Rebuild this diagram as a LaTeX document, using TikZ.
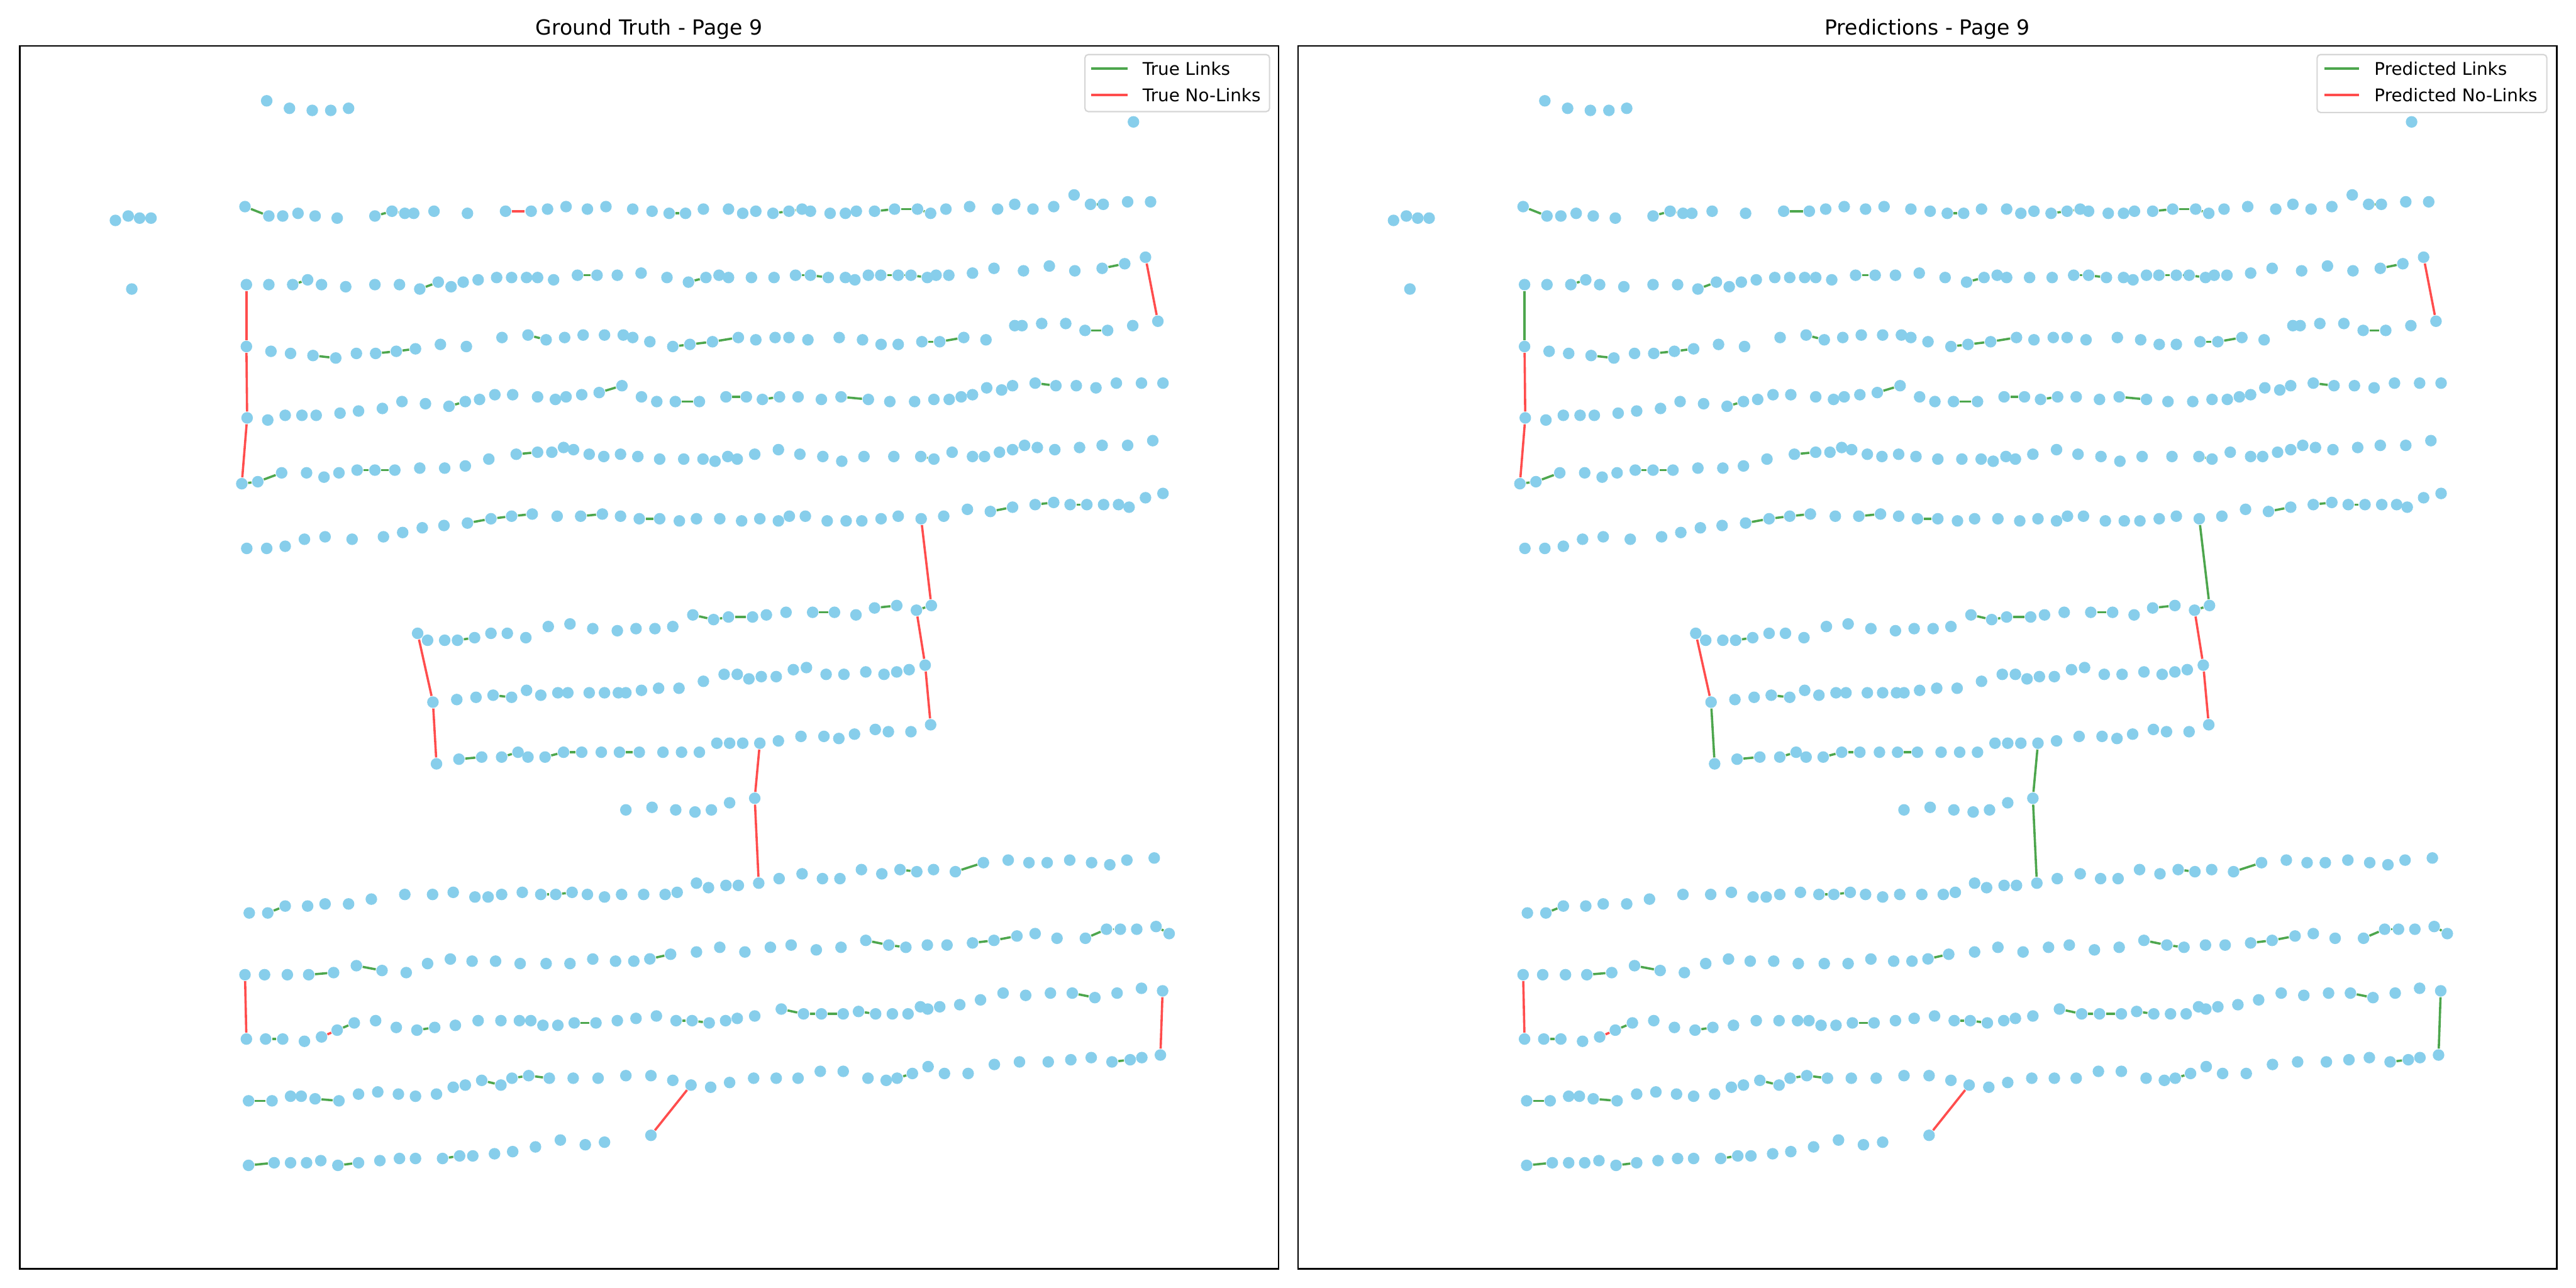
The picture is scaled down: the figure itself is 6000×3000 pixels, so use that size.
\documentclass[tikz,border=0pt]{standalone}
\usepackage{fontspec}
\setmainfont{DejaVu Sans}
\usetikzlibrary{positioning}
\definecolor{SkyDot}{HTML}{87CEEB}
\definecolor{LinkGreen}{RGB}{77,166,77}
\definecolor{NoLinkRed}{RGB}{255,77,77}
\definecolor{LegendEdge}{RGB}{214,214,214}
\pgfdeclarelayer{paper}
\pgfdeclarelayer{bg}
\pgfsetlayers{paper,bg,main}

\newcommand{\dotrow}[3]{\foreach \x/\y [count=\i] in {#3} {\node[blob] (#1-#2-\i) at (\x,\y) {};}}
\newcommand{\linkset}[3]{\foreach \p/\q in {#3} {\draw[#2] (#1-\p) -- (#1-\q);}}

\newcommand{\pagedots}[2]{%
\begin{scope}[fliplnk/.style={#2}]
  \begin{scope}[shift={(200,200)}, xscale=0.8291, yscale=0.4464]
    \dotrow{#1}{t}{508/78, 572/117, 636/128, 688/128, 738/117}
    \dotrow{#1}{l}{83/702, 119/679, 151/690, 183/690, 129/1060}
    \dotrow{#1}{1a}{447/630, 514/679, 553/679, 596/665, 644/679, 706/690, 812/679, 860/654, 896/665, 921/665, 978/654, 1072/665, 1179/654, 1251/654, 1297/643, 1349/630, 1409/643, 1461/630}
    \dotrow{#1}{2a}{451/1037, 514/1037, 581/1037, 623/1012, 662/1037, 730/1048, 812/1037, 881/1037, 938/1060, 990/1024, 1026/1048, 1060/1024, 1102/1012, 1154/1000, 1196/1000, 1238/1000, 1269/1000, 1314/1012, 1381/988, 1436/988, 1493/988}
    \dotrow{#1}{3a}{451/1360, 520/1385, 575/1396, 638/1407, 702/1420, 760/1396, 814/1396, 872/1385, 926/1372, 996/1349, 1069/1360, 1169/1313, 1242/1300, 1293/1325, 1345/1313, 1397/1300, 1457/1300}
  \end{scope}
  \begin{scope}[shift={(1450,200)}, xscale=0.8482, yscale=0.4464]
    \dotrow{#1}{tr}{1403/188}
    \dotrow{#1}{1b}{28/643, 81/654, 128/665, 173/665, 222/643, 291/643, 330/665, 366/654, 413/665, 457/654, 493/643, 516/654, 570/665, 612/665, 642/654, 692/654, 747/643, 810/643, 846/665, 888/643, 953/630, 1030/643, 1077/618, 1127/643, 1184/630, 1240/569, 1285/618, 1320/618, 1387/605, 1450/605}
    \dotrow{#1}{2b}{51/977, 122/1000, 181/1024, 229/1000, 265/988, 291/1000, 354/1000, 416/1000, 475/988, 516/988, 565/1000, 612/1000, 638/1012, 675/988, 709/988, 757/988, 792/988, 837/1000, 861/988, 896/988, 961/977, 1020/952, 1101/965, 1172/940, 1242/965, 1317/952, 1379/928, 1436/894}
    \dotrow{#1}{3b}{2/1300, 28/1313, 75/1335, 138/1360, 185/1349, 247/1335, 318/1313, 366/1325, 419/1313, 457/1313, 509/1325, 595/1313, 659/1325, 710/1349, 757/1349, 822/1335, 871/1335, 937/1313, 998/1325, 1077/1251, 1097/1251, 1151/1240, 1217/1240, 1270/1276, 1332/1276, 1401/1251, 1470/1228}
  \end{scope}
  \begin{scope}[shift={(200,860)}, xscale=0.8291, yscale=0.3333]
    \dotrow{#1}{4a}{453/340, 511/355, 560/322, 607/322, 647/322, 714/307, 766/292, 833/274, 888/226, 954/241, 1020/259, 1066/226, 1106/211, 1149/178, 1199/178, 1269/193, 1319/211, 1349/193, 1393/178, 1442/163, 1506/115}
    \dotrow{#1}{5a}{438/800, 483/786, 550/724, 620/724, 669/754, 711/724, 762/705, 812/705, 868/705, 938/691, 1008/691, 1066/676, 1132/628, 1209/594, 1269/580, 1309/580, 1342/547, 1370/562, 1414/594, 1455/610, 1502/594}
    \dotrow{#1}{6a}{452/1252, 508/1252, 560/1237, 614/1188, 672/1171, 748/1188, 836/1171, 890/1141, 945/1108, 1006/1092, 1072/1075, 1138/1045, 1196/1027, 1254/1012, 1324/1027, 1390/1027, 1451/1012, 1502/1027}
  \end{scope}
  \begin{scope}[shift={(1450,860)}, xscale=0.8482, yscale=0.3333]
    \dotrow{#1}{4b}{52/193, 94/226, 145/226, 211/226, 284/193, 340/193, 384/211, 431/193, 482/193, 546/211, 600/193, 675/211, 734/226, 802/226, 855/211, 897/211, 930/193, 961/178, 1000/130, 1041/145, 1071/115, 1133/97, 1190/115, 1246/115, 1300/130, 1356/97, 1425/97, 1484/97}
    \dotrow{#1}{5b}{42/610, 102/628, 168/628, 221/628, 254/643, 289/610, 315/628, 363/594, 428/562, 487/594, 550/610, 602/643, 663/610, 745/610, 819/610, 855/628, 905/580, 961/610, 994/610, 1035/580, 1071/562, 1104/532, 1139/547, 1187/562, 1255/547, 1317/532, 1387/532, 1456/499}
    \dotrow{#1}{6b}{46/1045, 102/1045, 156/1060, 203/1045, 267/1045, 327/1060, 377/1045, 428/1060, 458/1027, 502/1027, 562/1060, 614/1060, 657/1060, 710/1045, 757/1027, 820/1045, 882/1027, 947/979, 1010/994, 1071/964, 1133/946, 1184/931, 1229/946, 1275/946, 1321/946, 1362/946, 1391/964, 1436/898, 1484/868}
  \end{scope}
  \begin{scope}[shift={(200,1340)}, xscale=0.8291, yscale=0.3763]
    \dotrow{#1}{7a}{932/359, 960/402, 1008/402, 1044/402, 1092/386, 1138/359, 1184/359, 1236/386, 1299/317, 1360/301, 1424/330, 1493/343}
    \dotrow{#1}{8a}{975/785, 1042/769, 1096/755, 1144/742, 1196/755, 1238/712, 1278/742, 1326/727, 1354/727, 1414/727, 1457/727, 1496/727, 1517/727}
    \dotrow{#1}{9a}{985/1167, 1048/1138, 1112/1125, 1168/1125, 1214/1095, 1242/1125, 1290/1125, 1342/1095, 1393/1095, 1448/1095, 1499/1095}
    \dotrow{#1}{10a}{1517/1452}
  \end{scope}
  \begin{scope}[shift={(1450,1340)}, xscale=0.8482, yscale=0.3763]
    \dotrow{#1}{7b}{37/330, 89/330, 138/317, 193/245, 250/274, 291/258, 357/258, 395/245, 449/229, 522/229, 582/229, 641/245, 692/202, 753/187, 807/216, 848/187}
    \dotrow{#1}{8b}{52/712, 99/699, 155/699, 222/656, 279/613, 315/613, 347/641, 381/627, 422/627, 469/584, 505/571, 559/613, 608/613, 668/598, 718/613, 753/598, 787/584, 831/556}
    \dotrow{#1}{9b}{46/1095, 111/1095, 162/1095, 211/1095, 259/1039, 294/1039, 330/1039, 377/1039, 428/1025, 490/997, 553/997, 594/1010, 637/983, 694/954, 730/968, 792/968, 846/925}
    \dotrow{#1}{10b}{81/1436, 146/1452, 199/1465, 244/1452, 294/1408, 363/1380}
  \end{scope}
  \begin{scope}[shift={(200,1930)}, xscale=0.8291, yscale=0.3508]
    \dotrow{#1}{11a}{459/560, 511/560, 560/514, 623/514, 672/500, 738/500, 802/468, 896/437, 974/437, 1032/423, 1093/454, 1130/454, 1168/437, 1226/423, 1278/437, 1320/437, 1366/423, 1409/437, 1457/454, 1505/437}
    \dotrow{#1}{12a}{447/970, 502/970, 566/970, 626/970, 696/956, 760/910, 832/942, 900/956, 960/896, 1024/866, 1085/880, 1151/880, 1220/896, 1293/896, 1360/896, 1424/866, 1488/880}
    \dotrow{#1}{13a}{451/1397, 505/1397, 553/1397, 614/1412, 662/1383, 706/1338, 754/1290, 814/1275, 872/1320, 930/1338, 980/1320, 1038/1306, 1102/1275, 1166/1275, 1218/1275, 1250/1275, 1284/1306, 1326/1306, 1372/1290, 1433/1290, 1493/1275}
  \end{scope}
  \begin{scope}[shift={(1450,1930)}, xscale=0.8482, yscale=0.3508]
    \dotrow{#1}{11b}{58/437, 117/437, 150/423, 203/362, 236/392, 284/377, 318/377, 374/362, 430/332, 493/300, 549/332, 597/332, 656/272, 712/300, 762/272, 808/286, 854/272, 914/286, 991/226, 1059/209, 1116/226, 1166/226, 1228/209, 1288/226, 1338/240, 1385/209, 1460/195}
    \dotrow{#1}{12b}{31/880, 75/865, 132/834, 203/819, 267/788, 336/819, 406/788, 463/773, 532/805, 600/788, 668/742, 731/773, 778/788, 837/773, 891/773, 961/759, 1020/742, 1083/713, 1133/697, 1193/728, 1271/728, 1329/668, 1367/668, 1412/668, 1465/650, 1501/697}
    \dotrow{#1}{13b}{37/1260, 93/1244, 147/1275, 191/1275, 238/1290, 283/1275, 315/1260, 363/1244, 436/1198, 497/1230, 546/1230, 606/1230, 648/1214, 695/1230, 741/1230, 784/1230, 818/1183, 838/1198, 871/1183, 926/1169, 983/1137, 1045/1092, 1107/1107, 1175/1092, 1235/1092, 1297/1122, 1358/1092, 1425/1060, 1483/1077}
  \end{scope}
  \begin{scope}[shift={(200,2400)}, xscale=0.8291, yscale=0.3333]
    \dotrow{#1}{14a}{457/492, 523/492, 575/460, 605/460, 644/478, 711/492, 766/445, 820/430, 878/445, 926/460, 985/445, 1032/397, 1066/382, 1112/349, 1166/382, 1197/334, 1244/316, 1302/334, 1369/334, 1439/334, 1517/316}
    \dotrow{#1}{15a}{457/943, 529/925, 575/925, 620/925, 660/910, 708/943, 766/925, 826/910, 881/895, 926/895, 1002/895, 1050/877, 1087/877, 1148/862, 1199/847, 1263/814, 1333/766, 1403/799, 1457/781}
  \end{scope}
  \begin{scope}[shift={(1450,2400)}, xscale=0.8482, yscale=0.3333]
    \dotrow{#1}{14b}{78/316, 138/349, 188/382, 242/397, 294/364, 360/334, 422/334, 482/334, 543/286, 606/286, 674/334, 724/349, 754/334, 796/301, 839/253, 884/301, 949/301, 1021/238, 1090/220, 1169/220, 1231/205, 1287/190, 1344/220, 1394/205, 1426/190, 1477/172}
    \dotrow{#1}{15b}{78/733}
  \end{scope}
  \begin{pgfonlayer}{bg}
    \linkset{#1}{lnk}{1a-1/1a-2, 1a-7/1a-8, 1a-8/1a-9, 2a-3/2a-4, 2a-9/2a-10, 2a-19/2a-20,
      3a-4/3a-5, 3a-7/3a-8, 3a-8/3a-9, 3a-13/3a-14,
      1b-3/1b-4, 1b-9/1b-10, 1b-10/1b-11, 1b-16/1b-17, 1b-17/1b-18, 1b-18/1b-19, 1b-27/1b-28,
      2b-3/2b-4, 2b-9/2b-10, 2b-10/2b-11, 2b-15/2b-16, 2b-16/2b-17, 2b-17/2b-18, 2b-26/2b-27,
      3b-4/3b-5, 3b-5/3b-6, 3b-6/3b-7, 3b-16/3b-17, 3b-17/3b-18, 3b-24/3b-25,
      4a-11/4a-12, 4a-20/4a-21, 5a-1/5a-2, 5a-2/5a-3, 5a-7/5a-8, 5a-8/5a-9, 5a-14/5a-15,
      6a-11/6a-12, 6a-12/6a-13, 6a-13/6a-14, 6a-16/6a-17,
      4b-3/4b-4, 4b-5/4b-6, 4b-7/4b-8, 4b-11/4b-12, 4b-22/4b-23, 5b-15/5b-16, 5b-21/5b-22,
      6b-1/6b-2, 6b-19/6b-20, 6b-21/6b-22, 6b-23/6b-24,
      7a-4/7a-5, 8a-4/8a-5, 9a-2/9a-3, 9a-4/9a-5, 9a-7/9a-8, 9a-8/9a-9, 9a-11/9b-1,
      7b-4/7b-5, 7b-5/7b-6, 7b-6/7b-7, 7b-10/7b-11, 7b-13/7b-14, 7b-15/7b-16,
      11a-2/11a-3, 11a-15/11a-16, 11a-16/11a-17, 12a-4/12a-5, 12a-6/12a-7,
      13a-2/13a-3, 13a-6/13a-7, 13a-10/13a-11, 13a-19/13a-20,
      11b-15/11b-16, 11b-18/11b-19,
      12b-2/12b-3, 12b-11/12b-12, 12b-12/12b-13, 12b-16/12b-17, 12b-17/12b-18, 12b-21/12b-22, 12b-22/12b-23, 12b-25/12b-26,
      13b-3/13b-4, 13b-4/13b-5, 13b-9/13b-10, 13b-10/13b-11, 13b-11/13b-12, 13b-13/13b-14, 13b-25/13b-26,
      14a-1/14a-2, 14a-5/14a-6, 14a-14/14a-15, 14a-16/14a-17, 14a-17/14a-18,
      15a-1/15a-2, 15a-6/15a-7, 15a-11/15a-12, 14b-13/14b-14, 14b-23/14b-24}
    \linkset{#1}{nolnk}{2b-28/3b-27, 3a-1/4a-1, 4a-1/5a-1, 7a-1/8a-1, 7b-15/8b-18, 8b-18/9b-17,
      12a-1/13a-1, 13a-5/13a-6, 14b-3/15b-1}
    \linkset{#1}{fliplnk}{1a-13/1a-14, 2a-1/3a-1, 8a-1/9a-1, 6b-16/7b-16, 9b-8/10b-6, 10b-6/11b-8, 13b-29/14b-26}
  \end{pgfonlayer}
\end{scope}}

\begin{document}
\begin{tikzpicture}[x=0.005cm, y=-0.005cm,
    blob/.style={circle, fill=SkyDot, inner sep=0pt, minimum size=0.135cm},
    lnk/.style={draw=LinkGreen, line width=0.75pt},
    nolnk/.style={draw=NoLinkRed, line width=0.75pt},
    axisbox/.style={draw=black, line width=0.5pt},
    legbox/.style={draw=LegendEdge, fill=white, rounded corners=0.04cm, line width=0.45pt},
    legtext/.style={anchor=west, inner sep=0pt, font=\fontsize{5.8}{7}\selectfont},
    ttl/.style={anchor=base, inner sep=0pt, font=\fontsize{6.9}{8}\selectfont}]
  \begin{pgfonlayer}{paper}
    \fill[white] (0,0) rectangle (6000,3000);
  \end{pgfonlayer}
  \useasboundingbox (0,0) rectangle (6000,3000);

  \draw[axisbox] (46,107) rectangle (2978,2955);
  \node[ttl] (gttitle) at (1512,82) {Ground Truth - Page 9};
  \pagedots{g}{nolnk}
  \draw[legbox] (2527,127) rectangle (2957,260);
  \draw[lnk] (2542,160) -- (2626,160);
  \draw[nolnk] (2542,221) -- (2626,221);
  \node[legtext] (gtkey1) at (2660,160) {True Links};
  \node[legtext] (gtkey2) at (2660,221) {True No-Links};

  \begin{scope}[shift={(2977,0)}]
    \draw[axisbox] (46,107) rectangle (2978,2955);
    \node[ttl] (prtitle) at (1512,82) {Predictions - Page 9};
    \pagedots{p}{lnk}
  \end{scope}
  \draw[legbox] (5397,127) rectangle (5932,262);
  \draw[lnk] (5414,160) -- (5495,160);
  \draw[nolnk] (5414,221) -- (5495,221);
  \node[legtext] (prkey1) at (5529,160) {Predicted Links};
  \node[legtext] (prkey2) at (5529,221) {Predicted No-Links};
\end{tikzpicture}
\end{document}
